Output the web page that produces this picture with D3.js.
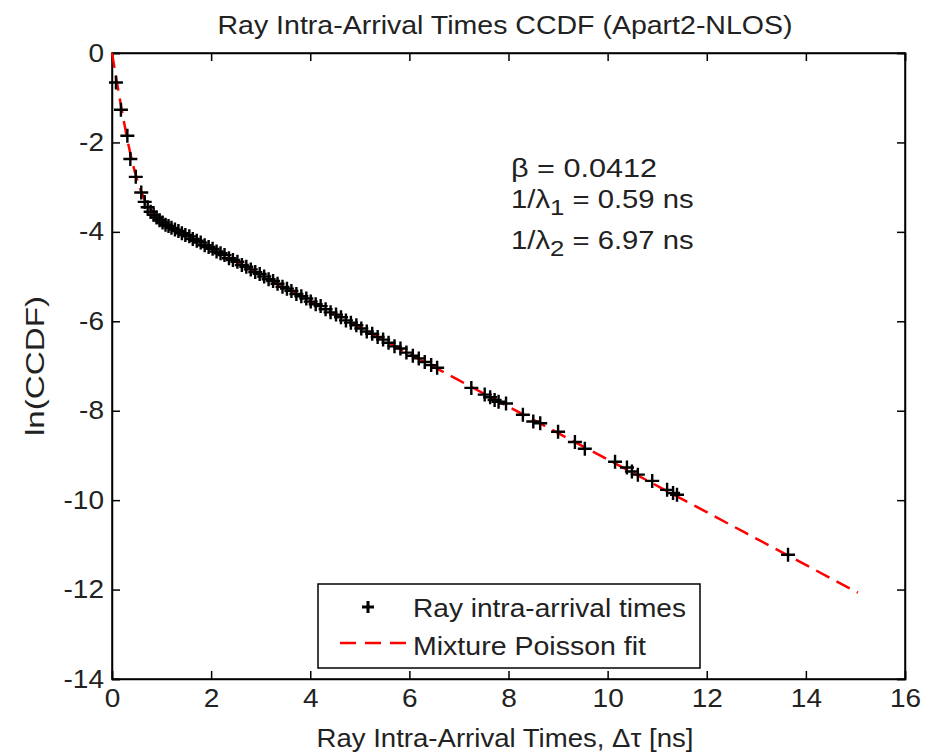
<!DOCTYPE html>
<html><head><meta charset="utf-8">
<script src="https://cdn.jsdelivr.net/npm/d3@7"></script>
<style>
body{margin:0;background:#fff;}
text{font-family:"Liberation Sans",Arial,sans-serif;fill:#222;}
</style></head>
<body>
<svg id="c" width="937" height="755"></svg>
<script>
// ---- data ----
const xTicks = [0,2,4,6,8,10,12,14,16];
const yTicks = [0,-2,-4,-6,-8,-10,-12,-14];
const rayX = [0.08,0.18,0.31,0.37,0.48,0.59,0.66,0.72,0.78,0.84,0.90,0.96,1.02,1.08,1.14,1.20,1.27,1.34,1.41,1.48,1.56,1.63,1.71,1.79,1.87,1.95,2.03,2.11,2.19,2.27,2.36,2.44,2.53,2.62,2.71,2.80,2.89,2.98,3.07,3.16,3.25,3.34,3.44,3.53,3.62,3.72,3.82,3.92,4.01,4.11,4.21,4.31,4.41,4.52,4.62,4.72,4.82,4.93,5.03,5.14,5.25,5.36,5.47,5.58,5.70,5.82,5.94,6.07,6.19,6.31,6.44,6.56,7.25,7.52,7.63,7.72,7.80,7.95,8.29,8.50,8.64,9.00,9.34,9.54,10.15,10.39,10.49,10.61,10.90,11.20,11.32,11.40,13.64];
const rayY = [-0.66,-1.27,-1.85,-2.37,-2.77,-3.12,-3.33,-3.45,-3.55,-3.62,-3.68,-3.74,-3.79,-3.84,-3.87,-3.91,-3.95,-3.98,-4.03,-4.07,-4.10,-4.16,-4.20,-4.24,-4.30,-4.34,-4.38,-4.44,-4.48,-4.52,-4.59,-4.63,-4.67,-4.74,-4.78,-4.84,-4.90,-4.94,-5.00,-5.06,-5.10,-5.16,-5.23,-5.27,-5.32,-5.39,-5.44,-5.49,-5.56,-5.62,-5.66,-5.73,-5.80,-5.85,-5.91,-5.98,-6.03,-6.09,-6.16,-6.23,-6.28,-6.35,-6.41,-6.48,-6.56,-6.61,-6.70,-6.77,-6.83,-6.91,-6.98,-7.04,-7.49,-7.64,-7.70,-7.76,-7.80,-7.84,-8.09,-8.24,-8.28,-8.47,-8.70,-8.85,-9.14,-9.27,-9.36,-9.43,-9.57,-9.77,-9.84,-9.88,-11.22];
const fitX = [0,0.1,0.2,0.3,0.4,0.5,0.6,0.7,0.8,0.9,1.0,1.2,1.5,2,4,6,8,10,12,15.05];
const fitY = [0,-0.66,-1.29,-1.88,-2.39,-2.81,-3.13,-3.37,-3.53,-3.65,-3.74,-3.89,-4.07,-4.37,-5.55,-6.73,-7.91,-9.09,-10.27,-12.07];
const annot = ["β = 0.0412","1/λ1 = 0.59 ns","1/λ2 = 6.97 ns"];

// ---- layout ----
const L=112,R=905,T=53,B=679;
const svg=d3.select("#c");
const x=d3.scaleLinear().domain([0,16]).range([L,R]);
const y=d3.scaleLinear().domain([-14,0]).range([B,T]);
const FS=25;

// frame
svg.append("rect").attr("x",L).attr("y",T).attr("width",R-L).attr("height",B-T)
  .attr("fill","#fff").attr("stroke","#000").attr("stroke-width",1.5);

// axes (ticks inward)
const ax=svg.append("g").attr("transform",`translate(0,${B})`)
  .call(d3.axisBottom(x).tickValues(xTicks).tickSize(-8).tickPadding(10).tickFormat(d3.format("d")));
const axT=svg.append("g").attr("transform",`translate(0,${T})`)
  .call(d3.axisTop(x).tickValues(xTicks).tickSize(-8).tickFormat(""));
const ay=svg.append("g").attr("transform",`translate(${L},0)`)
  .call(d3.axisLeft(y).tickValues(yTicks).tickSize(-8).tickPadding(10).tickFormat(d=>d===0?"0":"-"+Math.abs(d)));
const ayR=svg.append("g").attr("transform",`translate(${R},0)`)
  .call(d3.axisRight(y).tickValues(yTicks).tickSize(-8).tickFormat(""));
[ax,axT,ay,ayR].forEach(g=>{
  g.select(".domain").attr("stroke","#000").attr("stroke-width",1.5);
  g.selectAll(".tick line").attr("stroke","#000").attr("stroke-width",1.5);
  g.selectAll("text").attr("font-size",FS).attr("font-family","Liberation Sans, Arial, sans-serif").attr("fill","#222");
});
ax.selectAll("text").attr("dy","0.71em");
ay.selectAll(".tick text").attr("transform","translate(2,0) scale(1.12,1)").attr("x",-10/1.12);
ax.selectAll(".tick text").attr("transform","scale(1.12,1)");

// fit line
const line=d3.line().x((d,i)=>x(fitX[i])).y((d,i)=>y(fitY[i])).curve(d3.curveMonotoneX);
svg.append("path").datum(fitX).attr("d",line).attr("fill","none")
  .attr("stroke","#ff0000").attr("stroke-width",2.5).attr("stroke-dasharray","15,8");

// markers
const ms=7;
const pg=svg.append("g").attr("stroke","#000").attr("stroke-width",2.4);
pg.selectAll("path").data(rayX).join("path")
  .attr("d",(d,i)=>{const cx=x(d),cy=y(rayY[i]);return `M${cx-ms},${cy}H${cx+ms}M${cx},${cy-ms}V${cy+ms}`;});

// title & labels
function stretch(t,w){t.attr("textLength",w).attr("lengthAdjust","spacingAndGlyphs");return t;}
stretch(svg.append("text").attr("x",505).attr("y",34).attr("text-anchor","middle").attr("font-size",25)
  .text("Ray Intra-Arrival Times CCDF (Apart2-NLOS)"),575);
stretch(svg.append("text").attr("x",505).attr("y",747).attr("text-anchor","middle").attr("font-size",25)
  .text("Ray Intra-Arrival Times, Δτ [ns]"),377);
stretch(svg.append("text").attr("transform","translate(44,366) rotate(-90)").attr("text-anchor","middle").attr("font-size",25)
  .text("ln(CCDF)"),140);

// annotations
stretch(svg.append("text").attr("x",511).attr("y",177).attr("font-size",25).text(annot[0]),146);
function sub(t,yy){
  const m=t.match(/^(1\/λ)(\d)( = .*)$/);
  const g=svg.append("g").attr("transform",`translate(511,${yy}) scale(1.17,1)`);
  const tx=g.append("text").attr("x",0).attr("y",0).attr("font-size",25);
  tx.append("tspan").text(m[1]);
  tx.append("tspan").attr("dy",7).attr("font-size",22).text(m[2]);
  tx.append("tspan").attr("dy",-7).text(m[3]);
}
sub(annot[1],208);
sub(annot[2],249);

// legend
const lg=svg.append("g");
lg.append("rect").attr("x",318).attr("y",584).attr("width",382).attr("height",84)
  .attr("fill","#fff").attr("stroke","#000").attr("stroke-width",1.5);
lg.append("path").attr("d","M362,607H374M368,601V613").attr("stroke","#000").attr("stroke-width",3);
stretch(lg.append("text").attr("x",413).attr("y",617).attr("font-size",25).text("Ray intra-arrival times"),273);
lg.append("line").attr("x1",340).attr("x2",408).attr("y1",643).attr("y2",643)
  .attr("stroke","#ff0000").attr("stroke-width",2.5).attr("stroke-dasharray","16,9");
stretch(lg.append("text").attr("x",413).attr("y",655).attr("font-size",25).text("Mixture Poisson fit"),233);
</script>
</body></html>
